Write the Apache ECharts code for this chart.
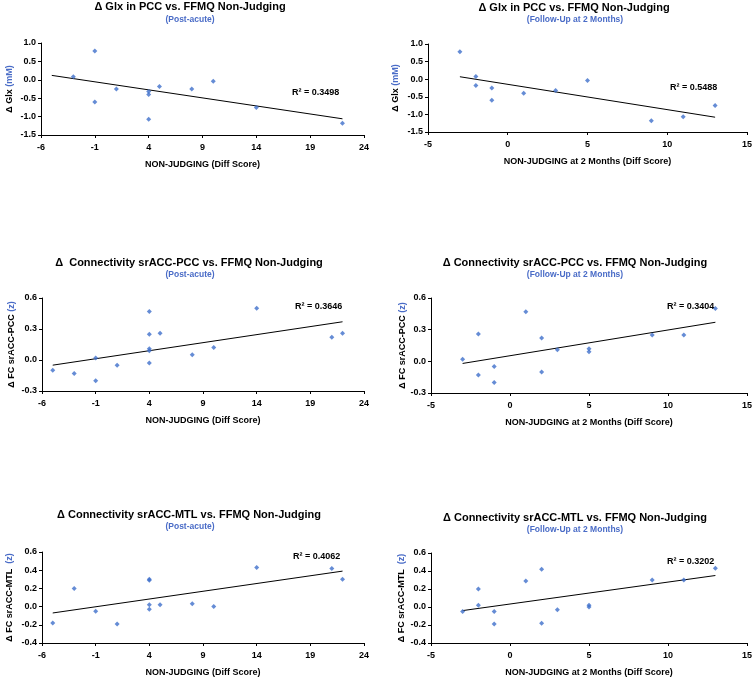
<!DOCTYPE html>
<html><head><meta charset="utf-8">
<script src="https://cdn.jsdelivr.net/npm/echarts@6/dist/echarts.min.js"></script>
<style>html,body{margin:0;padding:0;background:#fff}#c{width:755px;height:682px}</style>
</head><body><div id="c"></div>
<script>
// ---- data ----
const titles = [
  'Δ Glx in PCC vs. FFMQ Non-Judging',
  'Δ Glx in PCC vs. FFMQ Non-Judging',
  'Δ  Connectivity srACC-PCC vs. FFMQ Non-Judging',
  'Δ Connectivity srACC-PCC vs. FFMQ Non-Judging',
  'Δ Connectivity srACC-MTL vs. FFMQ Non-Judging',
  'Δ Connectivity srACC-MTL vs. FFMQ Non-Judging'
];
const subtitles = ['(Post-acute)', '(Follow-Up at 2 Months)', '(Post-acute)', '(Follow-Up at 2 Months)', '(Post-acute)', '(Follow-Up at 2 Months)'];
const xNames = ['NON-JUDGING (Diff Score)', 'NON-JUDGING at 2 Months (Diff Score)', 'NON-JUDGING (Diff Score)', 'NON-JUDGING at 2 Months (Diff Score)', 'NON-JUDGING (Diff Score)', 'NON-JUDGING at 2 Months (Diff Score)'];
const yNameMain = ['Δ Glx ', 'Δ Glx ', 'Δ FC srACC-PCC ', 'Δ FC srACC-PCC ', 'Δ FC srACC-MTL  ', 'Δ FC srACC-MTL  '];
const yNameUnit = ['(mM)', '(mM)', '(z)', '(z)', '(z)', '(z)'];
const r2Labels = ['R² = 0.3498', 'R² = 0.5488', 'R² = 0.3646', 'R² = 0.3404', 'R² = 0.4062', 'R² = 0.3202'];

const p1X = [-3, -1, -1, 1, 4, 4, 4, 5, 8, 10, 14, 22];
const p1Y = [0.08, 0.78, -0.6, -0.25, -0.32, -0.4, -1.07, -0.18, -0.25, -0.04, -0.75, -1.18];
const p1TrendX = [-5, 22];
const p1TrendY = [0.12, -1.06];

const p2X = [-3, -2, -2, -1, -1, 1, 3, 5, 9, 11, 13];
const p2Y = [0.78, 0.08, -0.18, -0.25, -0.6, -0.4, -0.32, -0.04, -1.18, -1.07, -0.75];
const p2TrendX = [-3, 13];
const p2TrendY = [0.07, -1.08];

const p3X = [-5, -3, -1, -1, 1, 4, 4, 4, 4, 4, 5, 8, 10, 14, 21, 22];
const p3Y = [-0.1, -0.13, 0.02, -0.2, -0.05, 0.47, 0.25, 0.11, 0.09, -0.03, 0.26, 0.05, 0.12, 0.5, 0.22, 0.26];
const p3TrendX = [-5, 22];
const p3TrendY = [-0.05, 0.37];

const p4X = [-3, -2, -2, -1, -1, 1, 2, 2, 3, 5, 5, 9, 11, 13];
const p4Y = [0.02, 0.26, -0.13, -0.05, -0.2, 0.47, 0.22, -0.1, 0.11, 0.12, 0.09, 0.25, 0.25, 0.5];
const p4TrendX = [-3, 13];
const p4TrendY = [-0.02, 0.37];

const p5X = [-5, -3, -1, 1, 4, 4, 4, 4, 5, 8, 10, 14, 21, 22];
const p5Y = [-0.18, 0.2, -0.05, -0.19, 0.3, 0.29, 0.02, -0.03, 0.02, 0.03, 0.0, 0.43, 0.42, 0.3];
const p5TrendX = [-5, 22];
const p5TrendY = [-0.07, 0.39];

const p6X = [-3, -2, -2, -1, -1, 1, 2, 2, 3, 5, 5, 9, 11, 13];
const p6Y = [-0.05, 0.2, 0.02, -0.05, -0.19, 0.29, 0.42, -0.18, -0.03, 0.02, 0.0, 0.3, 0.3, 0.43];
const p6TrendX = [-3, 13];
const p6TrendY = [-0.04, 0.35];

const xRanges = [[-6, 24, 5], [-5, 15, 5], [-6, 24, 5], [-5, 15, 5], [-6, 24, 5], [-5, 15, 5]];
const yRanges = [[-1.5, 1.0, 0.5], [-1.5, 1.0, 0.5], [-0.3, 0.6, 0.3], [-0.3, 0.6, 0.3], [-0.4, 0.6, 0.2], [-0.4, 0.6, 0.2]];

// ---- layout ----
const FONT = '"Liberation Sans", Arial, sans-serif';
const BLUE = '#3f6fcb';
const SUB = '#4a6cc7';
const grids = [
  {left: 41, top: 43, width: 323, height: 92},
  {left: 428, top: 44, width: 320, height: 88},
  {left: 42, top: 298, width: 322, height: 93},
  {left: 431, top: 298, width: 318, height: 95},
  {left: 42, top: 552, width: 322, height: 91},
  {left: 431, top: 553, width: 318, height: 90}
];
const titlePos = [[185, -4, 185, 10], [569, -3, 570, 10], [184, 252, 185, 265], [570, 252, 570, 265], [184, 504, 185, 517], [570, 507, 570, 520]];
const r2Pos = [[292, 88], [670, 83], [295, 302], [667, 302], [293, 552], [667, 557]];
const yNameGap = [27, 28, 26, 24, 28, 25];

const scatters = [[p1X, p1Y], [p2X, p2Y], [p3X, p3Y], [p4X, p4Y], [p5X, p5Y], [p6X, p6Y]];
const trends = [[p1TrendX, p1TrendY], [p2TrendX, p2TrendY], [p3TrendX, p3TrendY], [p4TrendX, p4TrendY], [p5TrendX, p5TrendY], [p6TrendX, p6TrendY]];

const zip = (a, b) => a.map((v, i) => [v, b[i]]);
const fmt1 = v => (Math.abs(v) < 1e-9 ? 0 : v).toFixed(1);

const title = [], xAxis = [], yAxis = [], series = [], graphic = [];
for (let i = 0; i < 6; i++) {
  title.push({text: titles[i], left: titlePos[i][0], top: titlePos[i][1], textAlign: 'center',
    textStyle: {fontFamily: FONT, fontSize: 11, fontWeight: 'bold', color: '#000'}});
  title.push({text: subtitles[i], left: titlePos[i][2], top: titlePos[i][3], textAlign: 'center',
    textStyle: {fontFamily: FONT, fontSize: 8.5, fontWeight: 'bold', color: SUB}});
  xAxis.push({gridIndex: i, type: 'value', min: xRanges[i][0], max: xRanges[i][1], interval: xRanges[i][2],
    name: xNames[i], nameLocation: 'middle', nameGap: 25,
    nameTextStyle: {fontFamily: FONT, fontSize: 9, fontWeight: 'bold', color: '#000'},
    axisLine: {onZero: false, lineStyle: {color: '#000', width: 1}},
    axisTick: {show: true, length: 3, lineStyle: {color: '#000'}},
    axisLabel: {fontFamily: FONT, fontSize: 9, fontWeight: 'bold', color: '#000', margin: 8},
    splitLine: {show: false}});
  yAxis.push({gridIndex: i, type: 'value', min: yRanges[i][0], max: yRanges[i][1], interval: yRanges[i][2],
    name: '{a|' + yNameMain[i] + '}{b|' + yNameUnit[i] + '}', nameLocation: 'middle', nameGap: yNameGap[i], nameRotate: 90,
    nameTextStyle: {rich: {
      a: {fontFamily: FONT, fontSize: 9, fontWeight: 'bold', color: '#000'},
      b: {fontFamily: FONT, fontSize: 9, fontWeight: 'bold', color: SUB}}},
    axisLine: {onZero: false, lineStyle: {color: '#000', width: 1}},
    axisTick: {show: true, length: 3, lineStyle: {color: '#000'}},
    axisLabel: {fontFamily: FONT, fontSize: 9, fontWeight: 'bold', color: '#000', margin: 5, formatter: fmt1},
    splitLine: {show: false}});
  series.push({type: 'line', xAxisIndex: i, yAxisIndex: i, data: zip(trends[i][0], trends[i][1]),
    symbol: 'none', lineStyle: {color: '#000', width: 1}, silent: true, z: 2});
  series.push({type: 'scatter', xAxisIndex: i, yAxisIndex: i, data: zip(scatters[i][0], scatters[i][1]),
    symbol: 'diamond', symbolSize: 5, itemStyle: {color: BLUE}, z: 3});
  graphic.push({type: 'text', left: r2Pos[i][0], top: r2Pos[i][1],
    style: {text: r2Labels[i], font: 'bold 9px ' + FONT, fill: '#000'}});
}

const chart = echarts.init(document.getElementById('c'), null, {renderer: 'canvas'});
chart.setOption({animation: false, backgroundColor: '#fff', grid: grids, title, xAxis, yAxis, series, graphic});
</script>
</body></html>
